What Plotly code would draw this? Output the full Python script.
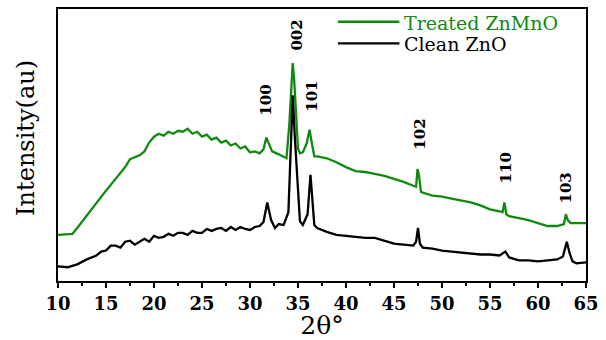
import plotly.graph_objects as go

# ---- data (2θ in degrees, intensity in arbitrary units) ----
treated_x = [10, 11, 11.5, 12, 13, 14, 15, 16, 17, 17.5, 18, 18.5, 19, 19.5, 20, 20.5, 21, 21.5, 22, 22.5,
             23, 23.5, 24, 24.5, 25, 25.5, 26, 26.5, 27, 27.5, 28, 28.5, 29, 29.5, 30, 30.5, 31, 31.4,
             31.7, 32.0, 32.3, 33, 33.8, 34.1, 34.3, 34.45, 34.6, 34.8, 35.0, 35.2, 35.5, 35.9, 36.2,
             36.45, 36.7, 37, 38, 39, 40, 41, 42, 43, 44, 45, 46, 47, 47.3, 47.45, 47.6, 47.8, 48, 49,
             50, 51, 52, 53, 54, 55, 56, 56.3, 56.5, 56.7, 57, 58, 59, 60, 61, 62, 62.7, 62.9, 63.1,
             63.4, 64, 65]
treated_y = [47, 48, 48, 54, 67, 79, 92, 104, 116, 124, 126, 128, 132, 141, 147, 150, 148, 152, 150, 153,
             152, 155, 150, 152, 147, 149, 144, 146, 141, 143, 138, 140, 135, 137, 131, 132, 130, 134,
             146, 138, 132, 129, 125, 160, 205, 222, 205, 170, 135, 130, 131, 140, 154,
             140, 127, 127, 125, 121, 116, 112, 111, 109, 107, 104, 101, 97, 96, 114, 108, 91, 90, 87,
             86, 84, 82, 80, 77, 73, 71, 70, 80, 68, 66, 64, 62, 59, 56, 56, 58, 68, 62,
             59, 59, 59]

clean_x = [10, 11, 12, 13, 14, 14.5, 15, 15.5, 16, 16.5, 17, 17.5, 18, 18.5, 19, 19.5, 20, 20.5, 21,
           21.5, 22, 22.5, 23, 23.5, 24, 24.5, 25, 25.5, 26, 26.5, 27, 27.5, 28, 28.5, 29, 29.5, 30,
           30.5, 31, 31.4, 31.8, 32.2, 32.6, 33, 33.5, 34.0, 34.25, 34.45, 34.65, 34.9, 35.2, 35.5,
           36.0, 36.3, 36.5, 36.7, 37, 38, 39, 40, 41, 42, 43, 44, 45, 46, 47, 47.3, 47.5, 47.7, 48,
           49, 50, 51, 52, 53, 54, 55, 56, 56.6, 57, 58, 59, 60, 61, 62, 62.6, 63.0, 63.3, 63.6, 64, 65]
clean_y = [15, 14, 17, 22, 26, 30, 31, 36, 36, 34, 40, 41, 37, 40, 43, 40, 46, 44, 45, 48, 46, 49,
           49, 47, 51, 49, 49, 53, 51, 53, 54, 51, 55, 52, 55, 53, 52,
           55, 56, 60, 80, 62, 54, 58, 57, 70, 150, 189, 150, 110, 61, 57,
           68, 108, 80, 57, 54, 50, 47, 46, 45, 44, 44, 41, 38, 37, 36, 40, 54, 38, 34,
           33, 31, 30, 29, 28, 27, 27, 26, 30, 24, 21, 21, 20, 21, 22, 25, 40, 28, 20, 18, 19]

peak_labels = ["100", "002", "101", "102", "110", "103"]
peak_pos = [31.7, 34.8, 36.5, 47.7, 56.7, 62.9]
peak_label_y = [184, 250, 188, 150, 115, 95]

series_names = ["Treated ZnMnO", "Clean ZnO"]
series_colors = ["#0f8a0f", "#000000"]

# ---- geometry helpers (pixel -> paper) ----
W, H = 606, 340
L, R, T, B = 58, 590, 7, 284
def px(x):
    return (x - L) / (R - L)
def py(y):
    return (B - y) / (B - T)

fig = go.Figure()
fig.add_trace(go.Scatter(x=treated_x, y=treated_y, mode="lines",
                         line=dict(color=series_colors[0], width=2.3), name=series_names[0]))
fig.add_trace(go.Scatter(x=clean_x, y=clean_y, mode="lines",
                         line=dict(color=series_colors[1], width=2.3), name=series_names[1]))

serif = "DejaVu Serif"
annotations = []
for lab, xp, yp in zip(peak_labels, peak_pos, peak_label_y):
    annotations.append(dict(x=xp, y=yp, xref="x", yref="y", text=lab, showarrow=False,
                            textangle=-90, font=dict(family=serif, size=15, color="black", weight="bold")))

# legend (manual)
shapes = []
for i, (nm, col) in enumerate(zip(series_names, series_colors)):
    yy = [20, 42][i]
    shapes.append(dict(type="line", xref="paper", yref="paper", x0=px(340), x1=px(402),
                       y0=py(yy), y1=py(yy), line=dict(color=col, width=2.3)))
    annotations.append(dict(xref="paper", yref="paper", x=px(405), y=py(yy + 1), text=nm,
                            showarrow=False, xanchor="left", yanchor="middle",
                            font=dict(family=serif, size=19, color=col)))

# y axis title
annotations.append(dict(xref="paper", yref="paper", x=px(25), y=py(138), text="Intensity(au)",
                        showarrow=False, textangle=-90, xanchor="center", yanchor="middle",
                        font=dict(family=serif, size=24, color="black")))

fig.update_layout(
    width=W, height=H, margin=dict(l=L, r=W - R, t=T, b=H - B),
    paper_bgcolor="white", plot_bgcolor="white", showlegend=False,
    annotations=annotations, shapes=shapes,
    xaxis=dict(range=[10, 65], dtick=5, tick0=10, ticks="outside", ticklen=5, tickwidth=2,
               tickcolor="black", showline=True, linecolor="black", linewidth=2, mirror=True,
               showgrid=False, zeroline=False,
               minor=dict(dtick=2.5, ticks="outside", ticklen=3, tickwidth=1.5, tickcolor="black"),
               tickfont=dict(family=serif, size=18, color="black", weight="bold"),
               title=dict(text="2θ°", font=dict(family=serif, size=25, color="black"), standoff=2)),
    yaxis=dict(range=[0, 277], showticklabels=False, ticks="", showline=True, linecolor="black",
               linewidth=2, mirror=True, showgrid=False, zeroline=False),
)

fig.write_html("out.html")
